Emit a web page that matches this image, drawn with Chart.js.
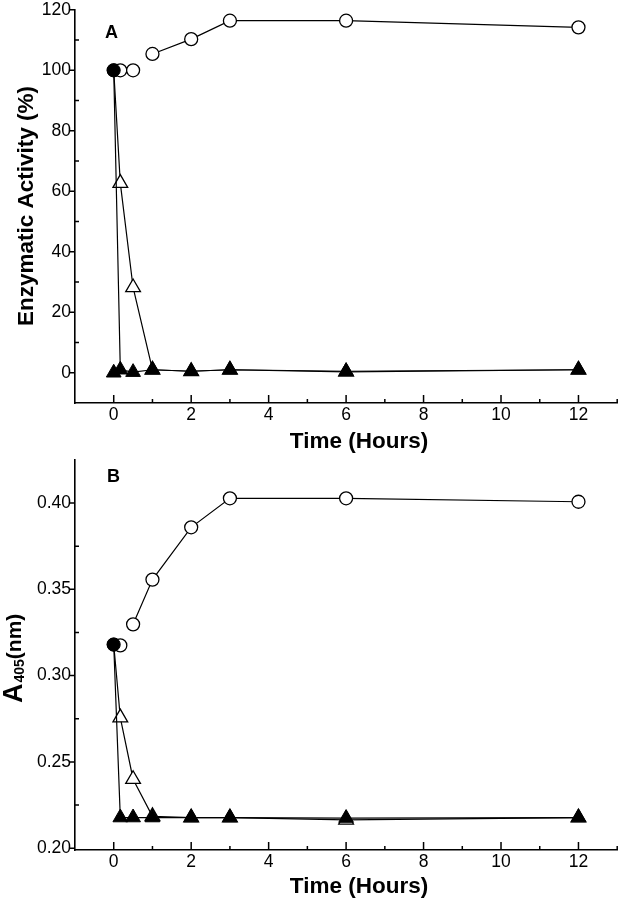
<!DOCTYPE html>
<html>
<head>
<meta charset="utf-8">
<script src="https://cdn.jsdelivr.net/npm/chart.js"></script>
<style>
  body { margin: 0; background: #fff; }
  #wrap { position: relative; width: 627px; height: 899px; }
  canvas { position: absolute; left: 0; }
  #chartA { top: 0; }
  #chartB { top: 450px; }
</style>
</head>
<body>
<div id="wrap">
  <canvas id="chartA" width="627" height="460"></canvas>
  <canvas id="chartB" width="627" height="449"></canvas>
</div>
<script>
// sampling times (hours)
const timeHours = [0, 0.17, 0.5, 1, 2, 3, 6, 12];

// Panel A - enzymatic activity (%)
const activityOpenCircle = [100, 100, 100, 105.4, 110.3, 116.4, 116.4, 114.2];
const activityOpenTriangle = [100, 62.7, 28.2, 1, 0.5, 1, 0.3, 1];
const activityFilled = [100, 1, 0.2, 1, 0.5, 1, 0.5, 1];
const activityExtraTime = [0];
const activityExtra = [0];

// Panel B - A405 (nm)
const absOpenCircle = [0.318, 0.3175, 0.3297, 0.3556, 0.3859, 0.4027, 0.4027, 0.4007];
const absOpenTriangle = [0.318, 0.2757, 0.2400, 0.2185, 0.2178, 0.2178, 0.2165, 0.2178];
const absFilled = [0.318, 0.2178, 0.2178, 0.2178, 0.2178, 0.2178, 0.2175, 0.2178];

// tick labels
const xTickLabels = [0, 2, 4, 6, 8, 10, 12];
const yTickLabelsA = [0, 20, 40, 60, 80, 100, 120];
const yTickLabelsB = [0.20, 0.25, 0.30, 0.35, 0.40];

const FONT = '"Liberation Sans", Arial, Helvetica, sans-serif';
const tickFont = { family: FONT, size: 17.5 };

function pts(xs, ys) {
    return xs.map((x, i) => ({ x: x, y: ys[i] }));
}

function labelA(v) {
    return yTickLabelsA.includes(v) ? String(v) : '';
}
function labelB(v) {
    const t = yTickLabelsB.find(t => Math.abs(t - v) < 1e-6);
    return t === undefined ? '' : t.toFixed(2);
}

// axis ticks: y majors outward, y minors inward, x ticks inward
function tickPlugin(yLabel) {
    return {
        id: 'axisTicks',
        beforeDatasetsDraw(chart) {
            const { ctx, chartArea } = chart;
            const x = chart.scales.x, y = chart.scales.y;
            ctx.save();
            ctx.strokeStyle = '#000';
            ctx.lineWidth = 1.5;
            ctx.beginPath();
            y.ticks.forEach(t => {
                if (t.value <= y.min + 1e-9) return;
                const py = y.getPixelForValue(t.value);
                if (yLabel(t.value) !== '') {
                    ctx.moveTo(chartArea.left - 6, py);
                    ctx.lineTo(chartArea.left, py);
                } else {
                    ctx.moveTo(chartArea.left, py);
                    ctx.lineTo(chartArea.left + 4, py);
                }
            });
            x.ticks.forEach(t => {
                if (t.value <= x.min) return;
                const px = x.getPixelForValue(t.value);
                const len = xTickLabels.includes(t.value) ? 8 : 4;
                ctx.moveTo(px, chartArea.bottom);
                ctx.lineTo(px, chartArea.bottom - len);
            });
            ctx.stroke();
            ctx.restore();
        }
    };
}

function titlePlugin(draw) {
    return {
        id: 'titles',
        afterDraw(chart) {
            const ctx = chart.ctx;
            ctx.save();
            ctx.fillStyle = '#000';
            draw(ctx);
            ctx.restore();
        }
    };
}

function filledSet(xs, ys) {
    return {
        data: pts(xs, ys),
        showLine: true,
        borderColor: '#000',
        borderWidth: 1.2,
        backgroundColor: '#000',
        pointStyle: xs.map((x, i) => i === 0 ? 'circle' : 'triangle'),
        pointRadius: xs.map((x, i) => i === 0 ? 6.5 : 8.5),
        pointBorderWidth: 1
    };
}

function openTriangleSet(xs, ys) {
    return {
        data: pts(xs, ys),
        showLine: true,
        borderColor: '#000',
        borderWidth: 1.2,
        pointStyle: 'triangle',
        pointBackgroundColor: '#fff',
        pointBorderColor: '#000',
        pointBorderWidth: 1.3,
        pointRadius: xs.map((x, i) => i === 0 ? 0 : 8.5)
    };
}

function openCircleSet(xs, ys, gap) {
    return {
        data: pts(xs, ys),
        showLine: true,
        borderColor: '#000',
        borderWidth: 1.2,
        pointStyle: 'circle',
        pointBackgroundColor: '#fff',
        pointBorderColor: '#000',
        pointBorderWidth: 1.3,
        pointRadius: 6.5,
        segment: {
            borderColor: c => c.p0DataIndex === gap ? 'rgba(0,0,0,0)' : '#000'
        }
    };
}

function makeChart(id, cfg) {
    return new Chart(document.getElementById(id), {
        type: 'scatter',
        data: { datasets: cfg.datasets },
        options: {
            responsive: false,
            animation: false,
            events: [],
            layout: { padding: { left: 0, right: 4, top: cfg.top, bottom: 0 } },
            plugins: { legend: { display: false }, tooltip: { enabled: false } },
            scales: {
                x: {
                    type: 'linear',
                    min: -1,
                    max: 13,
                    afterFit: s => { s.height = cfg.xHeight; s.paddingLeft = 0; s.paddingRight = 0; },
                    grid: { display: false, drawTicks: false },
                    border: { display: true, color: '#000', width: 1.6 },
                    ticks: {
                        stepSize: 1,
                        includeBounds: false,
                        autoSkip: false,
                        maxRotation: 0,
                        padding: 2,
                        color: '#000',
                        font: tickFont,
                        callback: v => xTickLabels.includes(v) ? String(v) : ''
                    }
                },
                y: {
                    type: 'linear',
                    min: cfg.yMin,
                    max: cfg.yMax,
                    afterFit: s => { s.width = 75; s.paddingTop = 0; s.paddingBottom = 0; },
                    grid: { display: false, drawTicks: false },
                    border: { display: true, color: '#000', width: 1.6 },
                    ticks: {
                        stepSize: cfg.yStep,
                        includeBounds: false,
                        autoSkip: false,
                        padding: 4,
                        color: '#000',
                        font: tickFont,
                        callback: cfg.yLabel
                    }
                }
            }
        },
        plugins: [tickPlugin(cfg.yLabel), titlePlugin(cfg.titles)]
    });
}

// Panel A
makeChart('chartA', {
    top: 9,
    xHeight: 57,
    yMin: -10,
    yMax: 120,
    yStep: 10,
    yLabel: labelA,
    datasets: [
        filledSet(timeHours, activityFilled),
        Object.assign(filledSet(activityExtraTime, activityExtra), { pointStyle: 'triangle', pointRadius: 8.5, showLine: false }),
        openTriangleSet(timeHours, activityOpenTriangle),
        openCircleSet(timeHours, activityOpenCircle, 2)
    ],
    titles: ctx => {
        ctx.font = 'bold 22.5px ' + FONT;
        ctx.textAlign = 'center';
        ctx.textBaseline = 'alphabetic';
        ctx.fillText('Time (Hours)', 359, 448);
        ctx.save();
        ctx.translate(33, 206);
        ctx.rotate(-Math.PI / 2);
        ctx.fillText('Enzymatic Activity (%)', 0, 0);
        ctx.restore();
        ctx.font = 'bold 18px ' + FONT;
        ctx.textAlign = 'left';
        ctx.fillText('A', 105, 38);
    }
});

// Panel B
makeChart('chartB', {
    top: 5,
    xHeight: 49,
    yMin: 0.199,
    yMax: 0.425,
    yStep: 0.025,
    yLabel: labelB,
    datasets: [
        filledSet(timeHours, absFilled),
        openTriangleSet(timeHours, absOpenTriangle),
        openCircleSet(timeHours, absOpenCircle, 1)
    ],
    titles: ctx => {
        ctx.font = 'bold 22.5px ' + FONT;
        ctx.textAlign = 'center';
        ctx.textBaseline = 'alphabetic';
        ctx.fillText('Time (Hours)', 359, 443);
        // A405(nm), rotated, read bottom to top
        ctx.save();
        ctx.translate(0, 253);
        ctx.rotate(-Math.PI / 2);
        ctx.textAlign = 'left';
        let pos = 0;
        ctx.font = 'bold 27px ' + FONT;
        ctx.fillText('A', pos, 22);
        pos += ctx.measureText('A').width + 1;
        ctx.font = 'bold 14px ' + FONT;
        ctx.fillText('405', pos, 24);
        pos += ctx.measureText('405').width;
        ctx.font = 'bold 21px ' + FONT;
        ctx.fillText('(nm)', pos, 21);
        ctx.restore();
        ctx.font = 'bold 18px ' + FONT;
        ctx.textAlign = 'left';
        ctx.fillText('B', 107, 32);
    }
});
</script>
</body>
</html>
